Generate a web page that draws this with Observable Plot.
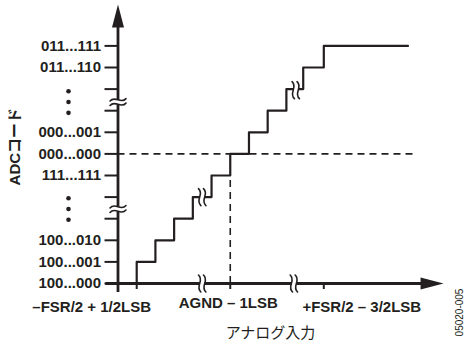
<!DOCTYPE html>
<html>
<head>
<meta charset="utf-8">
<script src="https://cdn.jsdelivr.net/npm/d3@7"></script>
<script src="https://cdn.jsdelivr.net/npm/@observablehq/plot@0.6"></script>
<style>
  body { margin: 0; background: #fff; }
  #chart svg g[aria-label="y-axis tick"], #chart svg g[aria-label="x-axis tick"] { stroke-width: 2px; }
  #chart svg g[aria-label="y-axis tick label"] { font-weight: bold; }
</style>
</head>
<body>
<div id="chart"></div>
<script>
// ---- data (schematic units: x in LSB steps, y in output-code steps) ----
const codeLevels = [0, 1, 2, 3, 4, 5, 6, 7, 8, 9, 10, 11];
const codeLabels = ["100...000", "100...001", "100...010", "", "", "111...111",
                    "000...000", "000...001", "", "", "011...110", "011...111"];
const stairX = [1, 2, 3, 4, 5, 6, 7, 8, 9, 9.9, 11, 15.5];
const stairY = [0, 1, 2, 3, 4, 5, 6, 7, 8, 9, 10, 11];
const xTicks = [1, 6, 11];
const xLabels = ["–FSR/2 + 1/2LSB", "AGND – 1LSB", "+FSR/2 – 3/2LSB"];
const yBreaks = [3.45, 8.4];
const xBreaks = [4.5, 9.4];
const stairBreakX = [4.5, 9.5];
const stairBreakY = [4, 8.95];
const zeroCode = 6;      // 000...000
const zeroInput = 6;     // AGND – 1LSB
const dashEnd = 16;
const xAxisStart = -0.65, xAxisEnd = 17.4;
const yAxisStart = -0.42, yAxisEnd = 12.92;
const yTitle = "ADCコード";
const xTitle = "アナログ入力";
const figId = "05020-005";

// ---- build ----
const ink = "#231f20";
const stair = stairX.map((x, i) => ({x, y: stairY[i]}));
const dots = yBreaks.flatMap(b => [b - 0.5, b, b + 0.5]);
const yBreakPts = yBreaks.map(y => ({x: 0, y}));
const xBreakPts = xBreaks.map(x => ({x, y: 0}));
const stairBreakPts = stairBreakX.map((x, i) => ({x, y: stairBreakY[i]}));

const gapShape = { draw(ctx, l, r) { ctx.rect(-r, -l / 2, 2 * r, l); } };
const tildeShape = {
  draw(ctx, l, r) {
    for (const s of [-l / 2, l / 2]) {
      ctx.moveTo(-r, s + 1.2);
      ctx.bezierCurveTo(-r / 3, s - 5, r / 3, s + 5, r, s - 1.2);
    }
  }
};

function breakMarks(pts, rotate, l, r, custom) {
  if (custom) {
    return [
      Plot.vector(pts, {x: "x", y: "y", shape: gapShape, length: l, r, rotate, anchor: "start", fill: "white", stroke: "none"}),
      Plot.vector(pts, {x: "x", y: "y", shape: tildeShape, length: l, r, rotate, anchor: "start", fill: "none", stroke: ink, strokeWidth: 1.6})
    ];
  }
  return [Plot.text(pts, {x: "x", y: "y", text: () => "≈", rotate, fontSize: 22, fill: ink, stroke: "white", strokeWidth: 4, fontFamily: "DejaVu Sans"})];
}

function build(custom) {
  const marks = [
    Plot.ruleY([zeroCode], {x1: 0, x2: dashEnd, stroke: ink, strokeWidth: 1.6, strokeDasharray: "7,5"}),
    Plot.ruleX([zeroInput], {y1: 0, y2: zeroCode - 1, stroke: ink, strokeWidth: 1.6, strokeDasharray: "7,5"}),
    Plot.ruleY([0], {x1: xAxisStart, x2: xAxisEnd - 0.6, stroke: ink, strokeWidth: 2.8}),
    Plot.ruleX([0], {y1: yAxisStart, y2: yAxisEnd - 0.6, stroke: ink, strokeWidth: 2.8}),
    Plot.line(stair, {x: "x", y: "y", curve: "step-before", stroke: ink, strokeWidth: 2.2}),
    Plot.axisY({ticks: codeLevels, tickFormat: d => codeLabels[d], tickSize: 13, tickPadding: 4, label: null,
                fontSize: 15, fontWeight: "bold", strokeWidth: 2}),
    Plot.axisX({ticks: xTicks, tickFormat: () => "", tickSize: 6, strokeWidth: 2, label: null}),
    ...breakMarks(yBreakPts, 0, 4.5, 8, custom),
    ...breakMarks(xBreakPts, 90, 5, 8.5, custom),
    ...breakMarks(stairBreakPts, 90, 5, 8.5, custom),
    Plot.vector([{x: 0, y: yAxisEnd}], {x: "x", y: "y", shape: "spike", length: 23, r: 6, anchor: "end", rotate: 0, fill: ink, stroke: "none"}),
    Plot.vector([{x: xAxisEnd, y: 0}], {x: "x", y: "y", shape: "spike", length: 23, r: 6, anchor: "end", rotate: 90, fill: ink, stroke: "none"}),
    Plot.dot(dots, {x: 0, y: d => d, dx: -49.5, r: 2.3, fill: ink, stroke: "none"}),
    Plot.text([xLabels[0]], {x: xTicks[0], y: 0, text: d => d, dx: -45, dy: 24, fontSize: 15, fontWeight: "bold", fill: ink}),
    Plot.text([xLabels[1]], {x: xTicks[1], y: 0, text: d => d, dx: -2, dy: 20, fontSize: 15, fontWeight: "bold", fill: ink}),
    Plot.text([xLabels[2]], {x: xTicks[2], y: 0, text: d => d, dx: 38, dy: 24, fontSize: 15, fontWeight: "bold", fill: ink}),
    Plot.text([yTitle], {frameAnchor: "left", text: d => d, rotate: -90, dx: -102.5, dy: -18, textAnchor: "middle", lineAnchor: "middle",
                         fontSize: 15, fontWeight: "bold", fill: ink}),
    Plot.text([xTitle], {frameAnchor: "bottom", text: d => d, dx: 49.6, dy: 50, textAnchor: "middle", lineAnchor: "middle",
                         fontSize: 15, fill: ink, fontFamily: "Noto Sans CJK JP"}),
    Plot.text([figId], {frameAnchor: "bottom-right", text: d => d, rotate: -90, dx: 135.5, dy: 29, textAnchor: "middle", lineAnchor: "middle",
                        fontSize: 10, fill: ink})
  ];
  return Plot.plot({
    width: 466,
    height: 345,
    marginLeft: 117.5,
    marginRight: 142.7,
    marginTop: 45.4,
    marginBottom: 62,
    x: {domain: [0, 11], axis: null},
    y: {domain: [0, 11], axis: null},
    style: {fontFamily: "'Liberation Sans', Arial, 'Noto Sans CJK JP', sans-serif", color: ink, background: "white", overflow: "visible"},
    marks
  });
}

let chart;
try { chart = build(true); } catch (e) { chart = build(false); }
document.getElementById("chart").append(chart);
</script>
</body>
</html>
